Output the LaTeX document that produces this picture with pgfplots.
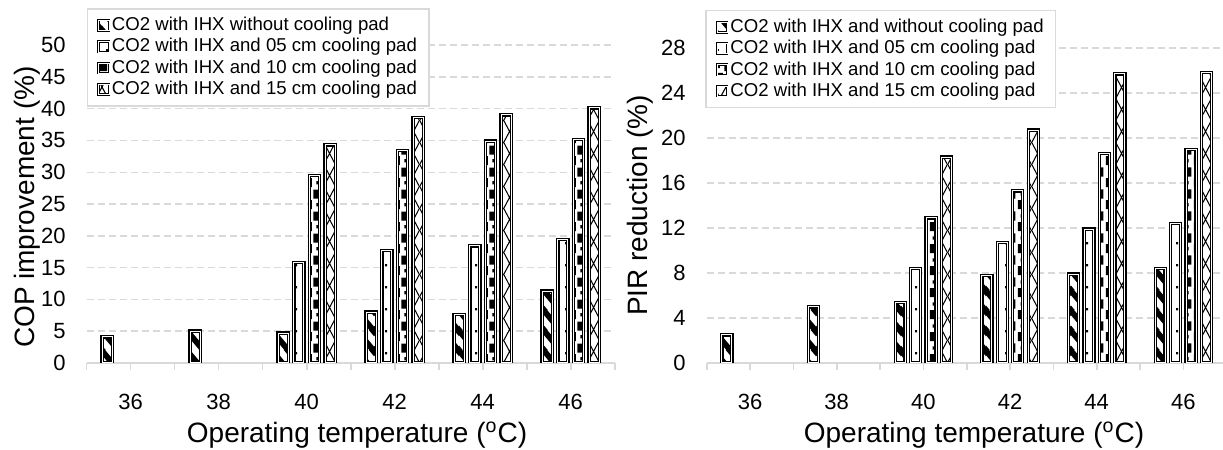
\documentclass[border=0pt]{standalone}
\usepackage{fontspec}
\setmainfont{Liberation Sans}
\usepackage{pgfplots}
\pgfplotsset{compat=1.18}
\usetikzlibrary{patterns}

\definecolor{axgray}{RGB}{217,217,217}

% bar fills, close to the Excel patterns
\pgfdeclarepatternformonly{wide stripes}{\pgfpointorigin}{\pgfpoint{8.5pt}{10pt}}{\pgfpoint{8.5pt}{10pt}}{%
  \pgfsetlinewidth{3pt}%
  \pgfpathmoveto{\pgfpoint{-8.5pt}{20pt}}\pgfpathlineto{\pgfpoint{17pt}{-10pt}}%
  \pgfpathmoveto{\pgfpoint{-8.5pt}{10pt}}\pgfpathlineto{\pgfpoint{8.5pt}{-10pt}}%
  \pgfpathmoveto{\pgfpoint{0pt}{20pt}}\pgfpathlineto{\pgfpoint{17pt}{0pt}}%
  \pgfusepath{stroke}}
\pgfdeclarepatternformonly{sparse dots}{\pgfpointorigin}{\pgfpoint{4.3pt}{10.8pt}}{\pgfpoint{4.3pt}{10.8pt}}{%
  \pgfpathrectangle{\pgfpoint{1.6pt}{4.9pt}}{\pgfpoint{1.1pt}{1.1pt}}%
  \pgfusepath{fill}}
\pgfdeclarepatternformonly{dotted checker}{\pgfpointorigin}{\pgfpoint{10.8pt}{10.8pt}}{\pgfpoint{10.8pt}{10.8pt}}{%
  \pgfpathrectangle{\pgfpoint{0.4pt}{0.4pt}}{\pgfpoint{4.6pt}{4.6pt}}%
  \pgfpathrectangle{\pgfpoint{5.8pt}{5.8pt}}{\pgfpoint{4.6pt}{4.6pt}}%
  \pgfpathrectangle{\pgfpoint{7.3pt}{1.9pt}}{\pgfpoint{1.6pt}{1.6pt}}%
  \pgfpathrectangle{\pgfpoint{1.9pt}{7.3pt}}{\pgfpoint{1.6pt}{1.6pt}}%
  \pgfusepath{fill}}
\pgfdeclarepatternformonly{thin diamonds}{\pgfpointorigin}{\pgfpoint{6pt}{11pt}}{\pgfpoint{6pt}{11pt}}{%
  \pgfsetlinewidth{0.55pt}%
  \pgfpathmoveto{\pgfpoint{-6pt}{-11pt}}\pgfpathlineto{\pgfpoint{12pt}{22pt}}%
  \pgfpathmoveto{\pgfpoint{-6pt}{22pt}}\pgfpathlineto{\pgfpoint{12pt}{-11pt}}%
  \pgfusepath{stroke}}

\pgfplotsset{
  barstyle/.style={draw=black, line width=0.6pt, double=white, double distance=0.5pt,
    preaction={fill=white}, preaction={pattern=#1, pattern color=black},
    legend image code/.code={\draw[##1, line width=0.4pt, double distance=0.3pt] (0pt,-2.6pt) rectangle (5.2pt,2.6pt);}},
  common/.style={
    scale only axis,
    ybar,
    bar width=0.23,
    xmin=35, xmax=47,
    ymin=0,
    xtick={35,...,47},
    xticklabels={{},36,{},38,{},40,{},42,{},44,{},46,{}},
    axis x line=bottom,
    axis y line=left,
    x axis line style={-, draw=axgray, line width=0.8pt},
    y axis line style={draw=none},
    tick align=outside,
    major tick length=3.3pt,
    xtick style={draw=axgray, line width=0.8pt},
    ytick style={draw=none},
    ymajorgrids,
    grid style={axgray, line width=0.7pt, dash pattern=on 3.5pt off 2pt},
    tick label style={font=\fontsize{11}{13}\selectfont},
    xticklabel style={anchor=center, yshift=-16pt},
    yticklabel style={anchor=east, inner sep=0pt, xshift=-7pt},
    label style={font=\fontsize{14}{16}\selectfont},
    /pgf/number format/assume math mode=true,
    legend cell align=left,
    legend style={font=\fontsize{9.3}{11}\selectfont, draw=axgray, line width=0.7pt, fill=white,
      inner xsep=5pt, inner ysep=3pt, anchor=north west,
      /tikz/every even column/.append style={column sep=0pt},
      nodes={inner xsep=1pt, inner ysep=1.2pt}},
  }
}

\begin{document}
\begin{tikzpicture}
\useasboundingbox (0,0) rectangle (611.5pt,225pt);

\begin{axis}[common,
  at={(43.35pt,43.5pt)}, anchor=south west,
  width=264pt, height=159pt,
  ymax=50, ytick={0,5,...,50},
  xlabel={Operating temperature (\textsuperscript{o}C)},
  ylabel={COP improvement (\%)},
  xlabel style={at={(axis description cs:0.512,-0.226)}, anchor=center},
  ylabel style={at={(axis description cs:-0.112,0.49)}, anchor=center},
  legend style={at={(0,1.116)}}]
\addplot[barstyle=wide stripes, bar shift=-0.535] coordinates {(36,4.1) (38,5.0) (40,4.7) (42,8.0) (44,7.6) (46,11.3)};
\addplot[barstyle=sparse dots, bar shift=-0.178] coordinates {(40,15.8) (42,17.7) (44,18.4) (46,19.4)};
\addplot[barstyle=dotted checker, bar shift=0.178] coordinates {(40,29.5) (42,33.4) (44,34.9) (46,35.1)};
\addplot[barstyle=thin diamonds, bar shift=0.535] coordinates {(40,34.3) (42,38.6) (44,39.0) (46,40.1)};
\legend{CO2 with IHX without cooling pad, CO2 with IHX and 05 cm cooling pad, CO2 with IHX and 10 cm cooling pad, CO2 with IHX and 15 cm cooling pad}
\end{axis}

\begin{axis}[common,
  at={(353.35pt,43.5pt)}, anchor=south west,
  width=260pt, height=157.5pt,
  ymax=28, ytick={0,4,...,28},
  xlabel={Operating temperature (\textsuperscript{o}C)},
  ylabel={PIR reduction (\%)},
  xlabel style={at={(axis description cs:0.514,-0.229)}, anchor=center},
  ylabel style={at={(axis description cs:-0.128,0.5)}, anchor=center},
  legend style={at={(-0.003,1.121)}}]
\addplot[barstyle=wide stripes, bar shift=-0.535] coordinates {(36,2.5) (38,5.0) (40,5.4) (42,7.8) (44,7.9) (46,8.4)};
\addplot[barstyle=sparse dots, bar shift=-0.178] coordinates {(40,8.4) (42,10.7) (44,11.9) (46,12.4)};
\addplot[barstyle=dotted checker, bar shift=0.178] coordinates {(40,12.9) (42,15.3) (44,18.6) (46,19.0)};
\addplot[barstyle=thin diamonds, bar shift=0.535] coordinates {(40,18.3) (42,20.7) (44,25.7) (46,25.8)};
\legend{CO2 with IHX and without cooling pad, CO2 with IHX and 05 cm cooling pad, CO2 with IHX and 10 cm cooling pad, CO2 with IHX and 15 cm cooling pad}
\end{axis}
\end{tikzpicture}
\end{document}
